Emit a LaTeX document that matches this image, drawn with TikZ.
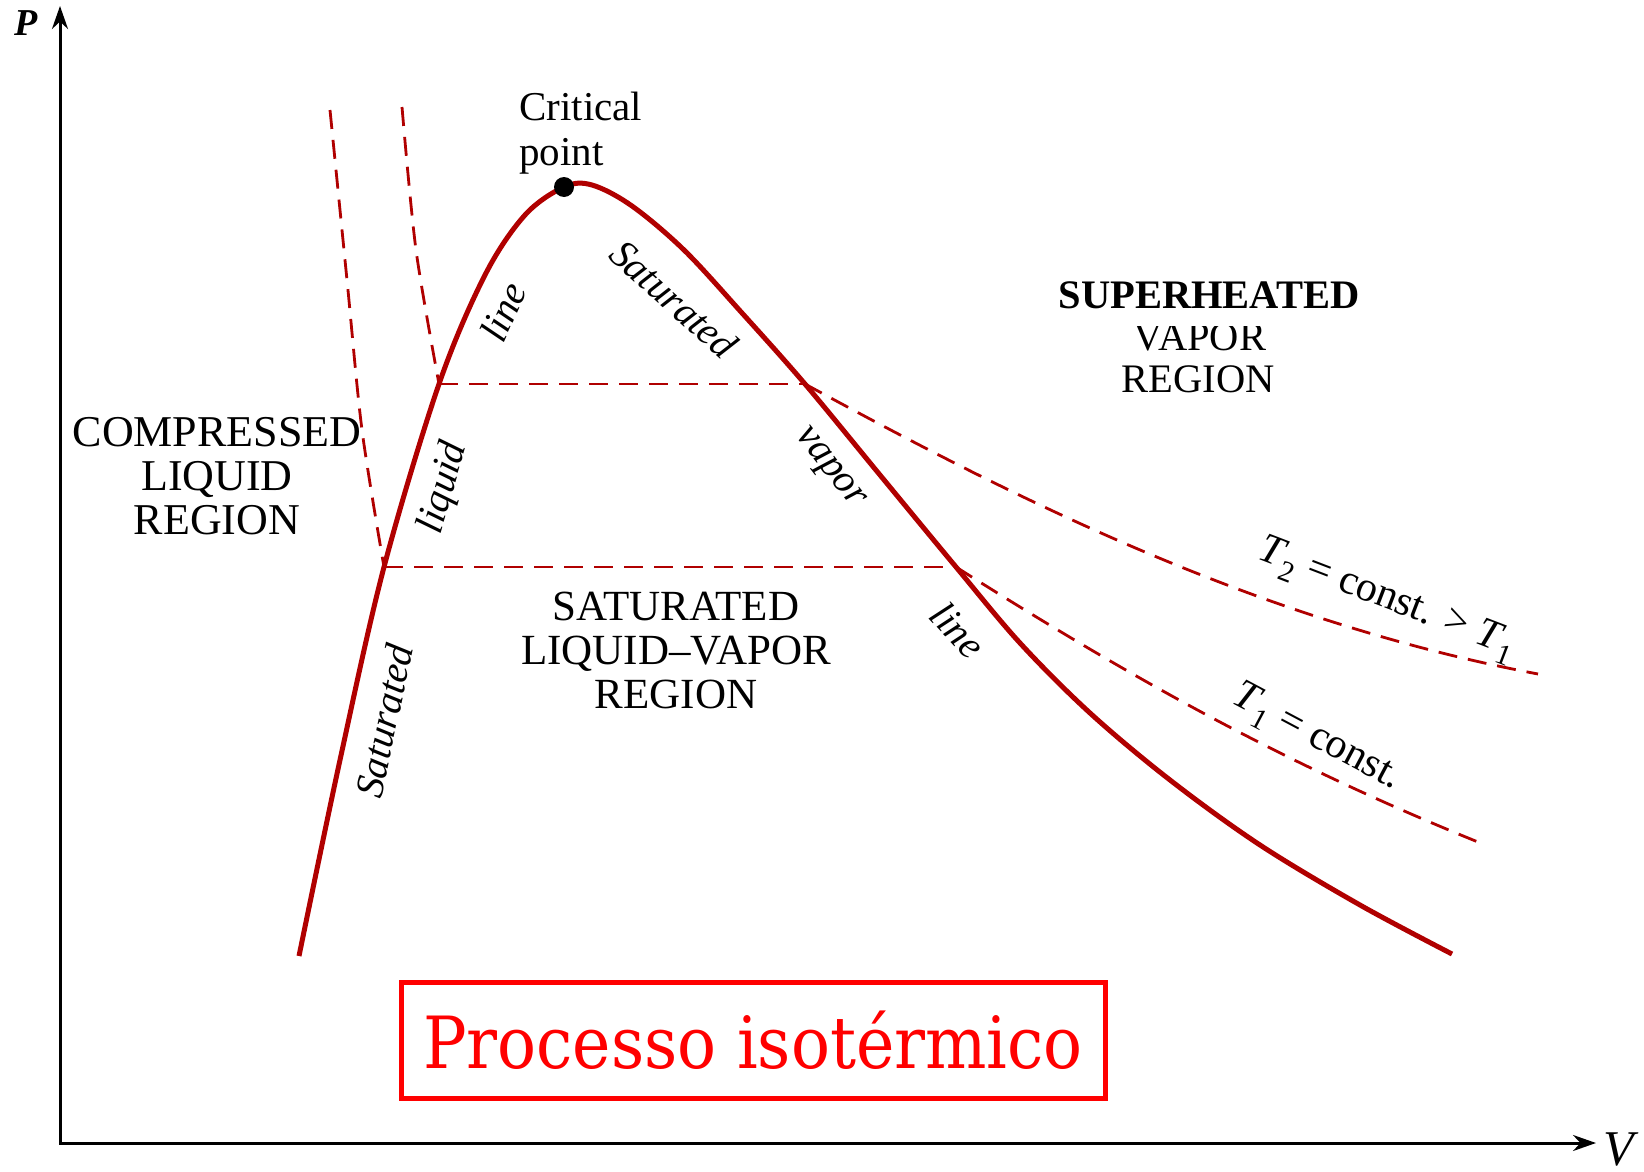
\documentclass[tikz,border=0pt]{standalone}
\usepackage{fontspec}
\setmainfont{Liberation Serif}
\newfontfamily\boxfont{DejaVu Serif Condensed}
\usetikzlibrary{arrows.meta}
\definecolor{curvered}{RGB}{176,0,0}
\definecolor{boxred}{RGB}{255,0,0}

\begin{document}
\begin{tikzpicture}[x=1pt,y=-1pt,
  satline/.style={curvered, line width=5pt, line join=round},
  isoline/.style={curvered, line width=2.8pt, dash pattern=on 19pt off 11pt},
  axisline/.style={line width=3pt, {Stealth[length=23pt,width=16pt]}-{Stealth[length=23pt,width=16pt]}},
  region/.style={align=center, inner sep=0pt},
  curvelab/.style={font=\itshape\fontsize{40}{40}\selectfont, inner sep=0pt},
  templab/.style={font=\fontsize{42}{42}\selectfont, inner sep=0pt},
]
\useasboundingbox (0,0) rectangle (1644,1172);

% axes
\coordinate (O) at (60,1143);
\coordinate (ytip) at (60,6);
\coordinate (xtip) at (1596,1143);
\draw[axisline] (ytip) -- (O) -- (xtip);
\node[font=\bfseries\itshape\fontsize{38}{38}\selectfont, inner sep=0pt] (plab) at (26,23) {P};
\node[font=\itshape\fontsize{50}{50}\selectfont, inner sep=0pt] (vlab) at (1619,1149) {V};

% key points of the dome
\coordinate (cp) at (564,187);
\coordinate (lq1) at (439,384);
\coordinate (lq2) at (384,567);
\coordinate (vp1) at (805,384);
\coordinate (vp2) at (956,567);

% compressed-liquid isotherms
\draw[isoline] plot[smooth] coordinates {(330,110) (347,280) (362,430) (384,567)};
\draw[isoline] plot[smooth] coordinates {(402,107) (416,250) (439,384)};

% isotherms through the dome
\draw[isoline] (lq1) -- (vp1);
\draw[isoline] (lq2) -- (vp2);
\draw[isoline] (vp1) .. controls (1000,490) and (1250,620) .. (1538,674);
\draw[isoline] (vp2) .. controls (1150,690) and (1300,770) .. (1478,842);

% saturation dome
\draw[satline] plot[smooth, tension=0.55] coordinates {(299,956) (340,760) (384,567) (439,384) (485,275) (525,215) (564,187) (592,185) (632,206) (684,250) (742,313) (805,384) (880,475) (956,567) (1020,643) (1090,713) (1170,780) (1260,845) (1360,905) (1452,954)};
\fill (cp) circle (10);

% labels
\node[region, align=left, anchor=west, font=\fontsize{41}{45}\selectfont] (crit) at (519,133) {Critical\\point};
\node[region, font=\fontsize{44}{44}\selectfont] (comp) at (217,476) {COMPRESSED\\LIQUID\\REGION};
\node[region, font=\fontsize{43}{44}\selectfont] (mix) at (676,650) {SATURATED\\LIQUID--VAPOR\\REGION};
\node[region, anchor=base, font=\fontsize{40.5}{40.5}\selectfont] (vap) at (1200,350) {VAPOR};
\node[region, anchor=base, font=\fontsize{40.5}{40.5}\selectfont] (reg) at (1198,392) {REGION};
\node[fill=white, anchor=base, inner xsep=2pt, inner ysep=0pt, text depth=18pt, font=\bfseries\fontsize{40.5}{40.5}\selectfont] (sup) at (1209,308) {SUPERHEATED};

\node[curvelab, rotate=78] (s1) at (384,721) {Saturated};
\node[curvelab, rotate=74] (s2) at (444,488) {liquid};
\node[curvelab, rotate=66] (s3) at (503,312) {line};
\node[curvelab, rotate=-42] (s4) at (674,299) {Saturated};
\node[curvelab, rotate=-52] (s5) at (828,469) {vapor};
\node[curvelab, rotate=-47] (s6) at (958,630) {line};

\node[templab, rotate=-21] (t2) at (1387,600) {\textit{T}\textsubscript{2} = const. > \textit{T}\textsubscript{1}};
\node[templab, rotate=-28] (t1) at (1316,739) {\textit{T}\textsubscript{1} = const.};

% title box
\node[draw=boxred, line width=5pt, text=boxred, minimum width=704pt, minimum height=116pt, inner sep=0pt, font=\boxfont\fontsize{72}{72}\selectfont] (title) at (753,1040) {Processo isotérmico};
\end{tikzpicture}
\end{document}
